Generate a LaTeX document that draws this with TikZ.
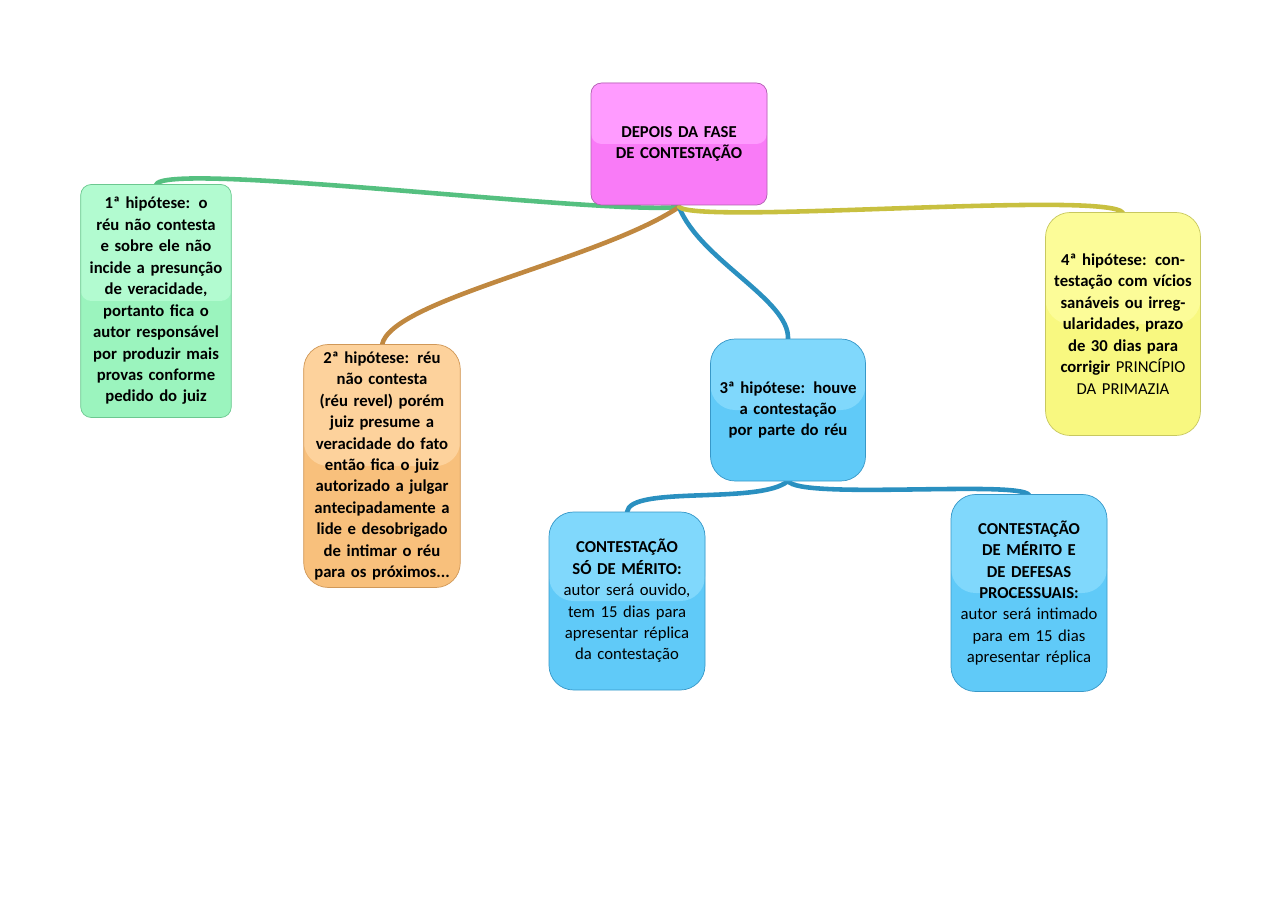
\documentclass[tikz,border=0pt]{standalone}
\usepackage{fontspec}
\setmainfont{Carlito}
\definecolor{pinkA}{HTML}{FF9BFF}
\definecolor{pinkB}{HTML}{F97BF7}
\definecolor{pinkD}{HTML}{B060B0}
\definecolor{greenA}{HTML}{B2FBD0}
\definecolor{greenB}{HTML}{9BF4BE}
\definecolor{greenD}{HTML}{6CC890}
\definecolor{greenL}{HTML}{55C080}
\definecolor{orangeA}{HTML}{FDD29C}
\definecolor{orangeB}{HTML}{F8C07C}
\definecolor{orangeD}{HTML}{D09858}
\definecolor{orangeL}{HTML}{C08840}
\definecolor{blueA}{HTML}{80D8FC}
\definecolor{blueB}{HTML}{60CAF8}
\definecolor{blueD}{HTML}{3898C8}
\definecolor{blueL}{HTML}{2A90C0}
\definecolor{yellowA}{HTML}{FCFC98}
\definecolor{yellowB}{HTML}{F8F880}
\definecolor{yellowD}{HTML}{C8C860}
\definecolor{yellowL}{HTML}{C8C040}
\begin{document}
\begin{tikzpicture}[x=0.02cm,y=-0.02cm,line cap=round]
\tikzset{every node/.style={rounded corners=14pt, draw, align=center, font=\bfseries\fontsize{9.5}{12.2}\selectfont, inner sep=3pt}}
\tikzstyle{box}=[path picture={\fill[#1] (path picture bounding box.north west) rectangle (path picture bounding box.east);}]
\tikzstyle{link}=[line width=2.6pt]
\fill[white] (0,0) rectangle (1280,905);
\useasboundingbox (0,0) rectangle (1280,905);
% edges
\draw[link, draw=greenL] (679,207) .. controls (600,215) and (160,160) .. (156,185);
\draw[link, draw=orangeL] (679,207) .. controls (600,260) and (390,300) .. (382,345);
\draw[link, draw=blueL] (679,207) .. controls (700,260) and (790,300) .. (788,339);
\draw[link, draw=yellowL] (679,207) .. controls (700,225) and (1110,190) .. (1123,213);
\draw[link, draw=blueL] (788,481) .. controls (760,505) and (630,485) .. (627,512);
\draw[link, draw=blueL] (788,481) .. controls (800,500) and (1020,480) .. (1029,495);
% vertices
\node[fill=pinkB, draw=pinkD, box=pinkA, minimum width=176*0.02cm, minimum height=122*0.02cm, text width=150*0.02cm, rounded corners=6pt] (root) at (679,144) {DEPOIS DA FASE DE CONTESTAÇÃO};
\node[fill=greenB, draw=greenD, box=greenA, minimum width=149*0.02cm, minimum height=233*0.02cm, text width=140*0.02cm, rounded corners=6pt] (h1) at (156,301) {1ª hipótese: o réu não contesta e sobre ele não incide a presunção de veracidade, portanto fica o autor responsável por produzir mais provas conforme pedido do juiz};
\node[fill=orangeB, draw=orangeD, box=orangeA, minimum width=155*0.02cm, minimum height=243*0.02cm, text width=146*0.02cm] (h2) at (382,466) {2ª hipótese: réu não contesta (réu revel) porém juiz presume a veracidade do fato então fica o juiz autorizado a julgar antecipadamente a lide e desobrigado de intimar o réu para os próximos...};
\node[fill=blueB, draw=blueD, box=blueA, minimum width=155*0.02cm, minimum height=142*0.02cm, text width=140*0.02cm] (h3) at (788,410) {3ª hipótese: houve a contestação por parte do réu};
\node[fill=yellowB, draw=yellowD, box=yellowA, minimum width=155*0.02cm, minimum height=223*0.02cm, text width=140*0.02cm] (h4) at (1123,324) {4ª hipótese: contestação com vícios sanáveis ou irregularidades, prazo de 30 dias para corrigir \textmd{PRINCÍPIO DA PRIMAZIA}};
\node[fill=blueB, draw=blueD, box=blueA, minimum width=156*0.02cm, minimum height=178*0.02cm, text width=140*0.02cm] (c1) at (627,601) {CONTESTAÇÃO SÓ DE MÉRITO: \textmd{autor será ouvido, tem 15 dias para apresentar réplica da contestação}};
\node[fill=blueB, draw=blueD, box=blueA, minimum width=156*0.02cm, minimum height=197*0.02cm, text width=140*0.02cm] (c2) at (1029,593) {CONTESTAÇÃO DE MÉRITO E DE DEFESAS PROCESSUAIS: \textmd{autor será intimado para em 15 dias apresentar réplica}};
\end{tikzpicture}
\end{document}
